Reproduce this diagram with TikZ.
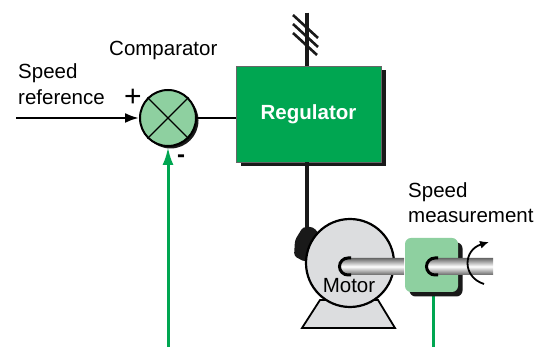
\documentclass[tikz,border=0pt]{standalone}
\usepackage{fontspec}
\setmainfont{Liberation Sans}
\usepackage{tikz}
\usetikzlibrary{positioning,calc,shadows,arrows.meta}

\definecolor{regGreen}{RGB}{0,166,81}
\definecolor{paleGreen}{RGB}{142,208,160}
\definecolor{motorGray}{RGB}{220,221,223}

\tikzset{
  lbl/.style={anchor=base west, inner sep=0pt, font=\fontsize{20.5}{24}\selectfont},
  wire/.style={line width=4pt, black!90},
  sig/.style={line width=3pt, regGreen},
  hatch/.style={line width=2.6pt, black!90},
  blackshadow/.style={drop shadow={shadow xshift=#1, shadow yshift=-#1, fill=black!90, opacity=1}}
}

\begin{document}
\begin{tikzpicture}[x=1pt, y=1pt]
  \useasboundingbox (0,0) rectangle (552,347);

  % comparator and regulator
  \node[circle, minimum size=56pt, inner sep=0pt, fill=paleGreen, draw=black, line width=2pt, blackshadow=2.5pt] (cmp) at (168,229) {};
  \draw[line width=1.4pt] (cmp.north west) -- (cmp.south east);
  \draw[line width=1.4pt] (cmp.north east) -- (cmp.south west);

  \node[rectangle, minimum width=145pt, minimum height=96pt, inner sep=0pt, fill=regGreen, draw=black!60, line width=0.8pt, blackshadow=4.5pt,
        text=white, font=\bfseries\fontsize{20.5}{24}\selectfont] (reg) at (308.5,233) {Regulator};

  \coordinate (sref) at (16,229);
  \draw[-{Latex[length=14pt,width=10pt]}, line width=2.4pt] (sref) -- (cmp.west);
  \draw[line width=2.4pt] (cmp.east) -- (reg.west |- cmp.east);

  % supply with hatch marks
  \coordinate (mains) at ($(reg.north)+(-1.5,53)$);
  \draw[wire] (mains) -- (mains |- reg.north);
  \draw[hatch] (293,332) -- (318,309);
  \draw[hatch] (293,323) -- (318,300);
  \draw[hatch] (293,314) -- (317,292);

  % labels
  \node[lbl] (cmplbl) at (109,291) {Comparator};
  \node[font=\fontsize{30}{30}\selectfont, inner sep=0pt] (plus) at (133,249) {+};
  \node[font=\bfseries\fontsize{24}{24}\selectfont, inner sep=0pt] (minus) at (181,188) {-};
  \node[lbl] (spd) at (18,268) {Speed};
  \node[lbl] (ref) at (18,242) {reference};
  \node[lbl] (spd2) at (408,149) {Speed};
  \node[lbl] (meas) at (408,124) {measurement};

  % motor
  \coordinate (term) at (307,119);
  \draw[wire] ($(reg.south)+(-1.5,0)$) -- (term);
  \fill[black!90, rounded corners=3pt] (303,120) -- (313,120) -- (325,107) -- (305,85) -- (294,91) -- (295,107) -- cycle;
  \filldraw[fill=motorGray, draw=black, line width=1.8pt] (302,19) -- (395,19) -- (378,47) -- (320,47) -- cycle;
  \node[circle, minimum size=88pt, inner sep=0pt, fill=motorGray, draw=black, line width=2.2pt] (motor) at (350,84) {};
  \node[lbl, anchor=base] (motorlbl) at (349,54) {Motor};

  % shaft and speed sensor
  \shade[top color=black!60, bottom color=black!60, middle color=white]
    (404,89) -- (348,89) arc[start angle=90, end angle=270, radius=8.5] -- (404,72) -- cycle;
  \draw[line width=3pt] (351,89) -- (348,89) arc[start angle=90, end angle=270, radius=8.5] -- (351,72);

  \coordinate (fbout) at (433,0);
  \draw[sig] (fbout) -- (433,60);
  \node[rectangle, rounded corners=6pt, minimum width=53pt, minimum height=54pt, inner sep=0pt, fill=paleGreen, blackshadow=4.5pt] (sensor) at (431.5,82) {};

  \shade[top color=black!60, bottom color=black!60, middle color=white]
    (493,89) -- (435,89) arc[start angle=90, end angle=270, radius=8.5] -- (493,72) -- cycle;
  \draw[line width=3pt] (438,89) -- (435,89) arc[start angle=90, end angle=270, radius=8.5] -- (438,72);
  \draw[-{Latex[length=9pt,width=8pt]}, line width=1.8pt] (484,63) .. controls (462,70) and (463,97) .. (489,105);

  % feedback
  \coordinate (fbin) at (168,0);
  \draw[sig, -{Latex[length=18pt,width=11pt]}] (fbin) -- (cmp.south);
\end{tikzpicture}
\end{document}
